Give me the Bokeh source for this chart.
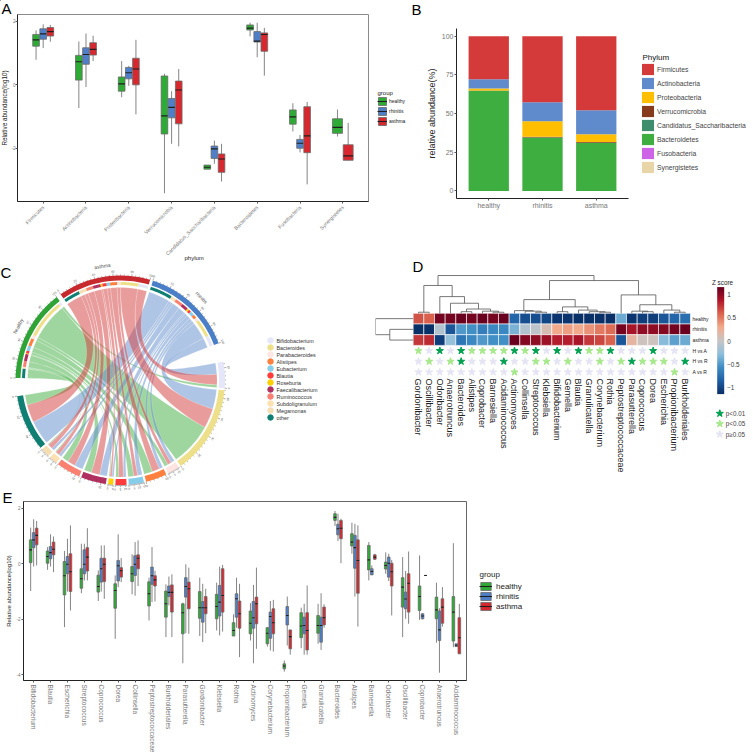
import math
import numpy as np
from bokeh.plotting import figure
from bokeh.models import (Range1d, Legend, LegendItem, ColumnDataSource, LinearColorMapper,
                          ColorBar, FixedTicker)
from bokeh.core.properties import value
from bokeh.transform import transform
from bokeh.embed import file_html
from bokeh.resources import INLINE

FONT = "Liberation Sans"
GROUPS = ["healthy", "rhinitis", "asthma"]
GCOL = {"healthy": "#2EAB35", "rhinitis": "#4E7FC8", "asthma": "#D7282F"}

# ---- Panel A data: [low, q1, median, q3, high]
A_cats = ["Firmicutes", "Actinobacteria", "Proteobacteria", "Verrucomicrobia",
          "Candidatus_Saccharibacteria", "Bacteroidetes", "Fusobacteria", "Synergistetes"]
A_healthy = [[.79, 1.22, 1.42, 1.59, 1.72], [-.73, .15, .73, .93, 1.37], [-.39, -.2, .03, .25, .75],
             [-3.42, -1.55, -.98, .28, .35], [-2.66, -2.66, -2.6, -2.53, -2.53], [1.53, 1.73, 1.79, 1.89, 1.96],
             [-1.47, -1.24, -1.01, -.79, -.58], [-1.63, -1.53, -1.34, -1.07, -.78]]
A_rhinitis = [[1.16, 1.44, 1.61, 1.77, 1.91], [-.07, .65, .96, 1.17, 1.62], [-.03, .19, .38, .55, .6],
              [-1.86, -1.04, -.71, -.43, -.2], [-2.49, -2.32, -2.02, -1.93, -1.76], [.87, 1.35, 1.38, 1.68, 1.96],
              [-2.13, -2, -1.84, -1.72, -1.58], None]
A_asthma = [[1.36, 1.54, 1.68, 1.81, 1.89], [.75, .94, 1.12, 1.33, 1.55], [-.93, 0, .5, .84, 1.42],
            [-1.94, -1.23, -.16, .12, .5], [-3.05, -2.76, -2.34, -2.18, -1.86], [.29, 1.06, 1.59, 1.64, 1.8],
            [-3.14, -2.14, -1.61, -.69, -.54], [-2.38, -2.38, -2.24, -1.89, -1.2]]

# ---- Panel B data
B_groups = ["healthy", "rhinitis", "asthma"]
B_phyla = ["Firmicutes", "Actinobacteria", "Proteobacteria", "Verrucomicrobia",
           "Candidatus_Saccharibacteria", "Bacteroidetes", "Fusobacteria", "Synergistetes"]
B_colors = ["#D43A3A", "#5F8BCC", "#FFBF00", "#883A1C", "#3E8E6E", "#3FAE40", "#CE63E8", "#E8D5A8"]
B_firmicutes = [27.8, 42.6, 47.8]
B_actino = [6.0, 12.4, 15.6]
B_proteo = [1.3, 9.9, 5.0]
B_verruco = [.1, .5, .5]
B_candid = [.1, .1, .1]
B_bactero = [64.7, 34.5, 31.0]
B_fuso = [0, 0, 0]
B_syner = [0, 0, 0]

# ---- Panel C data: link widths per genus (healthy, rhinitis, asthma)
C_genera = ["other", "Megamonas", "Subdoligranulum", "Ruminococcus", "Faecalibacterium", "Roseburia",
            "Blautia", "Eubacterium", "Alistipes", "Parabacteroides", "Bacteroides", "Bifidobacterium"]
C_healthy = [11, 1, 1, 7, 8, 1, 3, 6, 9, 4, 46, 3]
C_rhinitis = [26, 3, 3, 9, 8, 2, 3, 5, 4, 4, 21, 12]
C_asthma = [19, 5, 4, 8, 9, 2, 5, 4, 8, 4, 21, 11]
C_colors = ["#0F7F74", "#F5DEB3", "#FFE0B0", "#FA8072", "#B03060", "#FFD000",
            "#FF3B3B", "#87CEEB", "#FF7F3F", "#FFE4E1", "#EEE08A", "#E6E6FA"]
C_legend = ["Bifidobacterium", "Bacteroides", "Parabacteroides", "Alistipes", "Eubacterium", "Blautia",
            "Roseburia", "Faecalibacterium", "Ruminococcus", "Subdoligranulum", "Megamonas", "other"]

# ---- Panel D data
D_cols = ["Gordonibacter", "Oscillibacter", "Odoribacter", "Anaerotruncus", "Bacteroides", "Alistipes",
          "Coprobacter", "Barnesiella", "Acidaminococcus", "Actinomyces", "Collinsella", "Streptococcus",
          "Klebsiella", "Bifidobacterium", "Gemella", "Blautia", "Granulicatella", "Corynebacterium", "Rothia",
          "Peptostreptococcaceae", "Parasutterella", "Coprococcus", "Dorea", "Escherichia", "Propionibacterium",
          "Burkholderiales"]
D_healthy = [.65, .6, 1.1, 1.1, 1.15, 1.1, 1.15, 1.1, 1.15, -.8, -.95, -.95, -1, -1.1, -1.1, -1.15, -1.15, -1.15,
             -1.15, -.4, -1.1, -1.05, -1.05, -.9, -.8, -.75]
D_rhinitis = [-1.15, -1.15, -.1, -.9, -.5, -.55, -.65, -.6, -.6, -.35, -.1, -.05, .1, .3, .35, .3, .4, .5, .55,
              1.1, .9, 1.0, 1.0, 1.05, 1.1, 1.15]
D_asthma = [.75, .8, -1.05, -.25, -.7, -.6, -.5, -.55, -.55, 1.15, 1.05, 1.0, .95, .85, .85, .9, .75, .7, .6,
            -.9, .2, .05, .05, -.3, -.45, -.4]
D_HvsA = [1, 0, 2, 0, 2, 1, 1, 1, 1, 2, 1, 2, 0, 2, 0, 2, 1, 1, 2, 0, 0, 0, 2, 0, 0, 0]
D_HvsR = [0, 1, 0, 1, 2, 0, 0, 0, 2, 0, 0, 1, 1, 0, 1, 0, 0, 1, 0, 1, 2, 1, 1, 1, 0, 2]
D_AvsR = [0, 0, 0, 0, 0, 0, 0, 0, 0, 1, 0, 0, 0, 0, 0, 0, 0, 0, 0, 0, 0, 0, 0, 0, 1, 0]
D_merges = [(0, 1, .1), (4, 5, .15), (7, 8, .1), (6, 28, .2), (27, 29, .4), (3, 30, .94), (2, 31, 1.56),
            (26, 32, 2.6), (11, 12, .1), (10, 34, .2), (9, 35, .25), (13, 14, .15), (17, 18, .1), (16, 38, .15),
            (15, 39, .3), (37, 40, .6), (36, 41, 1.28), (21, 22, .15), (20, 43, .2), (24, 25, .1), (23, 45, .3),
            (44, 46, .8), (19, 47, 1.72), (42, 48, 3.06), (33, 49, 3.53)]

# ---- Panel E data: [low, q1, median, q3, high]
E_cats = ["Bifidobacterium", "Blautia", "Escherichia", "Streptococcus", "Coprococcus", "Dorea", "Collinsella",
          "Peptostreptococcaceae", "Burkholderiales", "Parasutterella", "Gordonibacter", "Klebsiella", "Rothia",
          "Actinomyces", "Corynebacterium", "Propionibacterium", "Gemella", "Granulicatella", "Bacteroides",
          "Alistipes", "Barnesiella", "Odoribacter", "Oscillibacter", "Coprobacter", "Anaerotruncus",
          "Acidaminococcus"]
E_healthy = [[-.98, .04, .5, .86, 1.3], [-.22, .02, .26, .46, .6], [-2.28, -1.12, -.43, .08, .46],
             [-1.06, -.88, -.54, -.18, .72], [-1.34, -1.02, -.82, -.41, -.24], [-2.7, -1.6, -.96, -.72, -.42],
             [-1.1, -.64, -.36, -.1, .34], [-2.04, -1.52, -1.08, -.65, -.5], [-2.64, -1.92, -1.44, -.98, -.74],
             [-3.58, -2.52, -1.76, -1.44, -1.4], [-2.6, -1.96, -1.58, -1.0, -.5], [-2.4, -1.98, -1.54, -1.1, -.68],
             [-2.6, -2.6, -2.4, -2.12, -1.82], [-2.76, -2.52, -2.14, -1.7, -1.42], [-2.98, -2.88, -2.5, -2.3, -2.28],
             [-3.88, -3.78, -3.68, -3.6, -3.48], [-3.04, -2.66, -2.24, -1.76, -1.58], [-2.88, -2.5, -2.22, -1.86, -1.44],
             [1.36, 1.56, 1.67, 1.8, 1.9], [.36, .64, .78, 1.08, 1.48], [-.6, -.22, .14, .66, .78],
             [-.36, -.19, -.06, .06, .41], [-2.64, -1.56, -.84, -.5, .24], [-2.02, -1.68, -1.18, -.8, .3],
             [-2.84, -1.98, -1.66, -1.2, -.68], [-3.0, -2.78, -1.74, -1.18, .74]]
E_rhinitis = [[-.1, .58, .86, 1.12, 1.6], [-.1, .18, .4, .62, 1.06], [-1.0, -.36, -.02, .26, .9],
              [-.6, -.36, -.02, .5, .72], [-1.0, -.66, -.18, .2, .66], [-.84, -.62, -.07, .12, 1.06],
              [-1.15, -.42, -.02, .29, .78], [-1.38, -.74, -.43, -.12, .6], [-1.5, -1.18, -1.03, -.8, -.46],
              [-2.5, -1.2, -.82, -.5, -.02], [-2.82, -2.1, -1.58, -1.36, -.72], [-2.58, -1.88, -1.38, -.78, -.1],
              [-2.3, -1.92, -1.26, -1.08, -.5], [-3.58, -2.32, -1.94, -1.36, -.76], [-3.12, -2.68, -1.9, -1.74, -1.34],
              [-2.94, -2.2, -1.86, -1.54, -1.18], [-3.27, -2.52, -2.22, -1.92, -1.44], [-3.1, -2.82, -2.22, -1.92, -1.06],
              [.82, 1.04, 1.26, 1.42, 1.8], [-1.18, -.16, .58, 1.02, 1.44], [-.4, -.4, -.28, -.18, -.06],
              [-.62, -.48, .02, .24, .36], [-1.98, -1.62, -1.27, -1.02, -.26], [-2.0, -1.98, -1.88, -1.8, -1.78],
              [-3.92, -2.76, -2.38, -1.7, -1.6], [-2.98, -2.98, -2.93, -2.88, -2.88]]
E_asthma = [[-.06, .68, 1.02, 1.28, 1.54], [-.3, .32, .52, .78, .98], [-1.68, -1.0, -.29, .36, 1.38],
            [-.6, -.26, .24, .58, 1.28], [-1.26, -.64, -.02, .2, .66], [-.66, -.48, -.25, -.14, .2],
            [-.8, -.18, .2, .32, .84], [-1.36, -.8, -.58, -.43, -.25], [-2.64, -1.74, -1.03, -.76, -.38],
            [-2.52, -1.62, -.9, -.66, -.14], [-2.5, -1.8, -1.58, -1.18, -.9], [-2.44, -1.74, -1.14, -.18, -.04],
            [-3.36, -2.32, -1.8, -1.34, -.72], [-3.06, -2.16, -1.44, -1.2, -.14], [-3.16, -2.52, -2.12, -1.62, -1.3],
            [-3.27, -3.06, -2.62, -2.38, -2.38], [-3.27, -3.1, -2.4, -1.76, -.78], [-2.3, -2.2, -1.94, -1.56, -1.46],
            [.02, .9, 1.28, 1.56, 1.62], [-2.26, -1.06, .12, .86, 1.38], [.14, .16, .24, .32, .36],
            [-1.86, -.8, -.29, .02, .14], [-2.16, -1.74, -.7, -.36, .44], [-.42, -.42, -.42, -.42, -.42],
            [-2.26, -2.14, -1.56, -1.26, -.84], [-3.24, -3.24, -2.66, -1.94, -1.44]]

BOX_LINE = "#6a6a6a"
WHISK = "#858585"
MEDIAN = "#1e1e1e"


def panel(left, top, W, H, fl, ft, fr, fb, xr, yr, **kw):
    p = figure(width=W, height=H, x_range=Range1d(*xr), y_range=Range1d(*yr), toolbar_location=None,
               output_backend="svg", min_border=0, min_border_left=fl, min_border_top=ft,
               min_border_right=fr, min_border_bottom=fb, border_fill_color=None, background_fill_color=None,
               styles={"position": "absolute", "left": f"{left}px", "top": f"{top}px"}, **kw)
    p.grid.visible = False
    return p


def style_axis(ax, tick_size, title_size, standoff=1, title_standoff=1, tick_color="#777777", line="#222222"):
    ax.major_label_text_font = FONT
    ax.major_label_text_font_size = tick_size
    ax.major_label_text_color = tick_color
    ax.axis_label_text_font = FONT
    ax.axis_label_text_font_size = title_size
    ax.axis_label_text_font_style = "normal"
    ax.axis_label_text_color = "#222222"
    ax.axis_label_standoff = title_standoff
    ax.major_label_standoff = standoff
    ax.major_tick_in = 0
    ax.major_tick_out = 2
    ax.minor_tick_line_color = None
    ax.major_tick_line_color = "#555555"
    ax.axis_line_color = line


def boxes(p, healthy, rhinitis, asthma, dodge, box):
    data = {"healthy": healthy, "rhinitis": rhinitis, "asthma": asthma}
    for g in GROUPS:
        xs, w, lo, q1, med, q3, hi, m0, m1 = [], [], [], [], [], [], [], [], []
        for i in range(len(healthy)):
            here = [k for k in GROUPS if data[k][i] is not None]
            if g not in here:
                continue
            n = len(here)
            step = dodge / n
            bw = step * box
            xc = i + 1 + (here.index(g) - (n - 1) / 2) * step
            v = data[g][i]
            xs.append(xc); w.append(bw); lo.append(v[0]); q1.append(v[1]); med.append(v[2]); q3.append(v[3])
            hi.append(v[4]); m0.append(xc - bw / 2); m1.append(xc + bw / 2)
        src = ColumnDataSource(dict(x=xs, w=w, lo=lo, q1=q1, med=med, q3=q3, hi=hi, m0=m0, m1=m1))
        p.segment("x", "lo", "x", "hi", source=src, line_color=WHISK, line_width=1)
        p.vbar("x", "w", "q3", "q1", source=src, fill_color=GCOL[g], line_color=BOX_LINE, line_width=.8)
        p.segment("m0", "med", "m1", "med", source=src, line_color=MEDIAN, line_width=1.1)


# ================= A
pA = panel(-2, 0, 412, 262, 19, 14, 42, 61, (.4, 8.6), (-3.68, 2.22))
style_axis(pA.xaxis[0], "5.2px", "6px", standoff=3)
style_axis(pA.yaxis[0], "4.6px", "6.3px", standoff=0, title_standoff=0)
pA.xaxis[0].ticker = list(range(1, 9))
pA.xaxis[0].major_label_overrides = {i + 1: c for i, c in enumerate(A_cats)}
pA.xaxis[0].major_label_orientation = math.pi / 4
pA.yaxis[0].ticker = [-2, 0, 2]
pA.yaxis[0].major_label_overrides = {-2: "-2", 0: "0", 2: "2"}
pA.yaxis[0].axis_label = "Relative abundance(log10)"
pA.outline_line_color = "#8a8a8a"
boxes(pA, A_healthy, A_rhinitis, A_asthma, .5, .93)

# ================= B
pB = panel(410, 0, 343, 250, 46, 28, 125, 52, (.4, 3.6), (-4.9, 105))
style_axis(pB.xaxis[0], "6.5px", "9px")
style_axis(pB.yaxis[0], "7px", "9px", title_standoff=2)
pB.xaxis[0].ticker = [1, 2, 3]
pB.xaxis[0].major_label_overrides = {i + 1: c for i, c in enumerate(B_groups)}
pB.xaxis[0].major_label_text_font_size = "7px"
pB.xaxis[0].major_label_standoff = 1
pB.yaxis[0].ticker = [0, 25, 50, 75, 100]
pB.yaxis[0].axis_label = "relative abundance(%)"
pB.outline_line_color = None
stack_src = ColumnDataSource(dict(x=[1, 2, 3], Firmicutes=B_firmicutes, Actinobacteria=B_actino,
                                  Proteobacteria=B_proteo, Verrucomicrobia=B_verruco,
                                  Candidatus_Saccharibacteria=B_candid, Bacteroidetes=B_bactero,
                                  Fusobacteria=B_fuso, Synergistetes=B_syner))
stackers = B_phyla[::-1]
pB.vbar_stack(stackers, x="x", width=.75, source=stack_src, color=B_colors[::-1], line_color=None)

# ================= C
pC = panel(0, 250, 350, 242, 0, 0, 0, 0, (-120, 230), (-112, 130), x_axis_location=None, y_axis_location=None)
pC.outline_line_color = None
GROUP_START = {"healthy": 178.6, "rhinitis": 72.0, "asthma": 124.8}
GROUP_BAND = {"healthy": "#2FA335", "rhinitis": "#4A7FC8", "asthma": "#C8292F"}
RIB = {"healthy": "#3FAE40", "rhinitis": "#5F8BCC", "asthma": "#D43A3A"}
G_SCALE, S_SCALE, S_GAP, S_START = .512, .562, 1.2, 188.6
links = {"healthy": C_healthy, "rhinitis": C_rhinitis, "asthma": C_asthma}


def arc(r, a0, a1, n=24):
    t = np.radians(np.linspace(a0, a1, n))
    return r * np.cos(t), r * np.sin(t)


def band(r0, r1, a0, a1):
    x0, y0 = arc(r1, a0, a1)
    x1, y1 = arc(r0, a1, a0)
    return list(np.r_[x0, x1]), list(np.r_[y0, y1])


def bez(p0, p1, n=30):
    t = np.linspace(0, 1, n)
    return (1 - t) ** 2 * p0[0] + t ** 2 * p1[0], (1 - t) ** 2 * p0[1] + t ** 2 * p1[1]


# angular layout
ang = S_START
sect = []
for i, g in enumerate(C_genera):
    tot = C_healthy[i] + C_rhinitis[i] + C_asthma[i]
    sect.append((ang, ang + tot * S_SCALE, tot))
    ang += tot * S_SCALE + S_GAP
grp_span = {}
for g in GROUPS:
    a = GROUP_START[g]
    grp_span[g] = []
    for i in range(len(C_genera)):
        w = links[g][i] * G_SCALE
        grp_span[g].append((a, a - w))
        a -= w
gen_link = {}
for i in range(len(C_genera)):
    a = sect[i][0]
    for g in ["healthy", "asthma", "rhinitis"]:
        w = links[g][i] * S_SCALE
        gen_link[(g, i)] = (a, a + w)
        a += w

Rg, Rs = 93.0, 96.5
for g in GROUPS:
    xs, ys = [], []
    for i in range(len(C_genera)):
        a_hi, a_lo = grp_span[g][i]
        b_lo, b_hi = gen_link[(g, i)]
        x1, y1 = arc(Rg, a_hi, a_lo)
        x3, y3 = arc(Rs, b_hi, b_lo)
        x2, y2 = bez((x1[-1], y1[-1]), (x3[0], y3[0]))
        x4, y4 = bez((x3[-1], y3[-1]), (x1[0], y1[0]))
        xs.append(list(np.r_[x1, x2, x3, x4]))
        ys.append(list(np.r_[y1, y2, y3, y4]))
    pC.patches(xs, ys, fill_color=RIB[g], fill_alpha=.5, line_color="white", line_width=.25, line_alpha=.7)

# tracks
bx, by, bc = [], [], []
for g in GROUPS:
    s = GROUP_START[g]
    x, y = band(100, 105, s, s - 100 * G_SCALE)
    bx.append(x); by.append(y); bc.append(GROUP_BAND[g])
    for i in range(len(C_genera)):
        a_hi, a_lo = grp_span[g][i]
        x, y = band(95.5, 98.5, a_hi, a_lo)
        bx.append(x); by.append(y); bc.append(C_colors[i])
for i in range(len(C_genera)):
    x, y = band(98.5, 104.5, sect[i][0], sect[i][1])
    bx.append(x); by.append(y); bc.append(C_colors[i])
pC.patches(bx, by, fill_color=bc, line_color=None)

# circular ticks
tx0, ty0, tx1, ty1, lx, ly, lt, la = [], [], [], [], [], [], [], []


def ticks(start, sign, scale, total, r):
    major = 20 if total >= 20 else 5
    minor = major / 5
    v = 0
    while v <= total + 1e-6:
        a = start + sign * v * scale
        t = math.radians(a)
        is_major = abs(v / major - round(v / major)) < 1e-6
        L = 2.2 if is_major else 1.1
        tx0.append(r * math.cos(t)); ty0.append(r * math.sin(t))
        tx1.append((r + L) * math.cos(t)); ty1.append((r + L) * math.sin(t))
        if is_major:
            lx.append((r + 5) * math.cos(t)); ly.append((r + 5) * math.sin(t))
            lt.append(str(int(v))); la.append(t - math.pi / 2)
        v += minor


for g in GROUPS:
    ticks(GROUP_START[g], -1, G_SCALE, 100, 105)
for i in range(len(C_genera)):
    ticks(sect[i][0], 1, S_SCALE, sect[i][2], 104.5)
pC.segment(tx0, ty0, tx1, ty1, line_color="#333333", line_width=.4)
pC.text(lx, ly, text=lt, angle=la, text_font=value(FONT), text_font_size="3px", text_color="#555555",
        text_align="center", text_baseline="middle")
for g, r_t, a_t in [("healthy", 116, 152), ("rhinitis", 116, 45.7), ("asthma", 116, 99)]:
    t = math.radians(a_t)
    pC.text([r_t * math.cos(t)], [r_t * math.sin(t)], text=[g], angle=[t - math.pi / 2], text_font=value(FONT),
            text_font_size="5px", text_color="#555555", text_align="center", text_baseline="middle")

# legend of panel C
leg_y = [40 - 7 * i for i in range(len(C_legend))]
leg_c = [C_colors[C_genera.index(n)] for n in C_legend]
pC.scatter([150] * len(C_legend), leg_y, size=5.5, color=leg_c)
pC.text([156] * len(C_legend), leg_y, text=C_legend, text_font=value(FONT), text_font_size="5.4px",
        text_color="#333333", text_baseline="middle")
pC.text([64], [123], text=["phylum"], text_font=value(FONT), text_font_size="6px", text_color="#222222",
        text_baseline="middle")

# ================= D
pD = panel(350, 250, 403, 242, 25, 20, 63, 115, (-3.53, 26), (-6, 4), y_axis_location="right")
pD.outline_line_color = None
axb, axr = pD.xaxis[0], pD.yaxis[0]
style_axis(axb, "9px", "6px", standoff=1, tick_color="#222222", line=None)
style_axis(axr, "5px", "6px", standoff=2, tick_color="#222222", line=None)
axb.major_tick_line_color = None
axr.major_tick_line_color = None
axb.major_tick_out = 0
axr.major_tick_out = 0
axb.ticker = [i + .5 for i in range(26)]
axb.major_label_overrides = {i + .5: c for i, c in enumerate(D_cols)}
axb.major_label_orientation = "vertical"
row_labels = ["healthy", "rhinitis", "asthma", "H vs A", "H vs R", "A vs R"]
axr.ticker = [-i - .5 for i in range(6)]
axr.major_label_overrides = {-i - .5: t for i, t in enumerate(row_labels)}

anchors = ["#0A3068", "#1F5FA5", "#3F8DC5", "#8FC0DC", "#C8C6C6", "#F2AC8E", "#DC6650", "#B2182B", "#67001F"]
pal = []
for i in range(256):
    t = i / 255 * (len(anchors) - 1)
    k = min(int(t), len(anchors) - 2)
    f = t - k
    a = [int(anchors[k][j:j + 2], 16) for j in (1, 3, 5)]
    b = [int(anchors[k + 1][j:j + 2], 16) for j in (1, 3, 5)]
    pal.append("#%02x%02x%02x" % tuple(int(a[c] + (b[c] - a[c]) * f) for c in range(3)))
mapper = LinearColorMapper(palette=pal, low=-1.14, high=1.16)
hx, hy, hz = [], [], []
for r_i, vals in enumerate([D_healthy, D_rhinitis, D_asthma]):
    for c_i, v in enumerate(vals):
        hx.append(c_i + .5); hy.append(-r_i - .5); hz.append(v)
pD.rect("x", "y", 1, 1, source=ColumnDataSource(dict(x=hx, y=hy, z=hz)), fill_color=transform("z", mapper),
        line_color="white", line_width=.6)

# dendrograms
node_x = {i: i + .5 for i in range(26)}
node_h = {i: 0 for i in range(26)}
dx, dy = [], []
for k, (l, r, h) in enumerate(D_merges):
    dx.append([node_x[l], node_x[l], node_x[r], node_x[r]])
    dy.append([node_h[l], h, h, node_h[r]])
    node_x[26 + k] = (node_x[l] + node_x[r]) / 2
    node_h[26 + k] = h
pD.multi_line(dx, dy, line_color="#555555", line_width=.8)
pD.multi_line([[0, -2.19, -2.19, 0], [-2.19, -3.53, -3.53, 0]],
              [[-1.5, -1.5, -2.5, -2.5], [-2.0, -2.0, -.5, -.5]], line_color="#555555", line_width=.8)

# stars
star_cols = ["#E4E4F4", "#A6E88B", "#00A050"]
star_names = ["p\u22650.05", "p<0.05", "p<0.01"]
for cls in range(3):
    sx, sy = [], []
    for r_i, vals in enumerate([D_HvsA, D_HvsR, D_AvsR]):
        for c_i, v in enumerate(vals):
            if v == cls:
                sx.append(c_i + .5); sy.append(-3.5 - r_i)
    pD.scatter(sx, sy, marker="star", size=7.5, fill_color=star_cols[cls], line_color=star_cols[cls])
cb = ColorBar(color_mapper=mapper, location=(341.7, -16.6), width=7, height=107, padding=0, margin=0,
              ticker=FixedTicker(ticks=[-1, -.5, 0, .5, 1]), major_tick_line_color=None,
              major_label_text_font=FONT, major_label_text_font_size="6.3px", major_label_text_color="#333333",
              label_standoff=3, bar_line_color=None, border_line_color=None, background_fill_color=None,
              background_fill_alpha=0)
pD.add_layout(cb, "center")

# ================= E
pE = panel(0, 492, 753, 263, 23, 9, 287, 75, (.4, 26.6), (-4.2, 2.24))
style_axis(pE.xaxis[0], "6.5px", "6px")
style_axis(pE.yaxis[0], "4.6px", "6px")
pE.xaxis[0].ticker = list(range(1, 27))
pE.xaxis[0].major_label_overrides = {i + 1: c for i, c in enumerate(E_cats)}
pE.xaxis[0].major_label_orientation = "vertical"
pE.xaxis[0].major_label_standoff = 2
pE.yaxis[0].ticker = [-4, -2, 0, 2]
pE.yaxis[0].major_label_overrides = {-4: "-4", -2: "-2", 0: "0", 2: "2"}
pE.yaxis[0].axis_label = "Relative abundance(log10)"
pE.outline_line_color = "#666666"
boxes(pE, E_healthy, E_rhinitis, E_asthma, .53, .88)

# ================= overlay: panel letters and legends (its frame is the whole page)
pT = panel(0, 0, 753, 755, 0, 0, 0, 0, (0, 753), (755, 0), x_axis_location=None, y_axis_location=None)
pT.outline_line_color = None
pT.text([1, 411, 0, 412, 2], [8, 9, 272, 266, 497], text=["A", "B", "C", "D", "E"], text_font=value(FONT),
        text_font_size="15px", text_color="#000000", text_baseline="middle")
pT.text([722], [282], text=["Z score"], text_font=value(FONT), text_font_size="6.3px", text_color="#222222",
        text_align="center", text_baseline="middle")
pT.text([377], [92], text=["group"], text_font=value(FONT), text_font_size="6px", text_color="#222222",
        text_baseline="middle")
pT.text([642], [57], text=["Phylum"], text_font=value(FONT), text_font_size="8px", text_color="#111111",
        text_baseline="middle")
pT.text([479], [574], text=["group"], text_font=value(FONT), text_font_size="8px", text_color="#222222",
        text_baseline="middle")


def legend_common(**kw):
    base = dict(label_text_font=FONT, padding=0, margin=0, border_line_color=None, background_fill_color=None,
                background_fill_alpha=0, label_width=10, label_height=5, spacing=0)
    base.update(kw)
    return Legend(**base)


# keys are drawn from renderers placed off-page
grp_items = []
for g in GROUPS:
    b = pT.vbar([-50], .5, [-50], [-49], fill_color=GCOL[g], line_color=BOX_LINE, line_width=.8)
    m = pT.segment([-50], [-50], [-49], [-50], line_color=MEDIAN, line_width=1.1)
    grp_items.append(LegendItem(label=g, renderers=[b, m]))
pT.add_layout(legend_common(items=grp_items, location=(377, 629), label_text_font_size="5px",
                            label_text_color="#222222", glyph_width=10, glyph_height=10, label_standoff=2),
              "center")
pT.add_layout(legend_common(items=list(grp_items), location=(479, 144), label_text_font_size="8px",
                            label_text_color="#222222", glyph_width=13, glyph_height=10, label_standoff=4),
              "center")
phy_items = []
for n, c in zip(B_phyla, B_colors):
    b = pT.vbar([-50], .5, [-50], [-49], fill_color=c, line_color=None)
    phy_items.append(LegendItem(label=n, renderers=[b]))
pT.add_layout(legend_common(items=phy_items, location=(640, 581), label_text_font_size="6.8px",
                            label_text_color="#444444", glyph_width=15, glyph_height=14, label_standoff=2),
              "center")
star_y = [413, 423.3, 433.7]
pT.scatter([719.3] * 3, star_y, marker="star", size=7.5, fill_color=star_cols[::-1], line_color=star_cols[::-1])
pT.text([725.3] * 3, star_y, text=star_names[::-1], text_font=value(FONT), text_font_size="6.3px",
        text_color="#444444", text_baseline="middle")

open("out.html", "w").write(file_html([pA, pB, pC, pD, pE, pT], INLINE))
